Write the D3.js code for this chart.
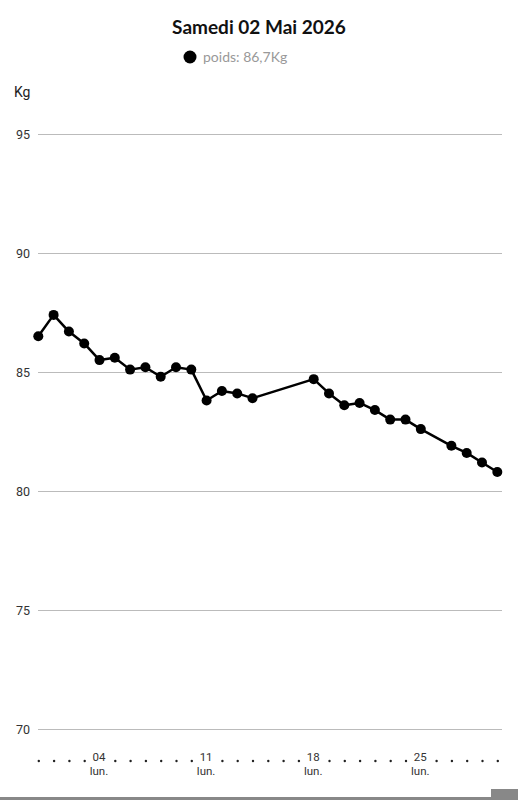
<!DOCTYPE html>
<html>
<head>
<meta charset="utf-8">
<script src="https://cdn.jsdelivr.net/npm/d3@7"></script>
<style>
  body { margin: 0; background: #fff; }
  svg { display: block; }
  .tick text { font-family: Roboto, sans-serif; fill: #333; }
</style>
</head>
<body>
<svg id="chart" width="518" height="800"></svg>
<script>
// données
var dates = ["2026-04-30", "2026-05-01", "2026-05-02", "2026-05-03", "2026-05-04",
             "2026-05-05", "2026-05-06", "2026-05-07", "2026-05-08", "2026-05-09",
             "2026-05-10", "2026-05-11", "2026-05-12", "2026-05-13", "2026-05-14",
             "2026-05-18", "2026-05-19", "2026-05-20", "2026-05-21", "2026-05-22",
             "2026-05-23", "2026-05-24", "2026-05-25",
             "2026-05-27", "2026-05-28", "2026-05-29", "2026-05-30"];
var poids = [86.5, 87.4, 86.7, 86.2, 85.5,
             85.6, 85.1, 85.2, 84.8, 85.2,
             85.1, 83.8, 84.2, 84.1, 83.9,
             84.7, 84.1, 83.6, 83.7, 83.4,
             83.0, 83.0, 82.6,
             81.9, 81.6, 81.2, 80.8];
var yTicks = [70, 75, 80, 85, 90, 95];
var titre = "Samedi 02 Mai 2026";
var legende = "poids: 86,7Kg";
var unite = "Kg";
var jourCourt = "lun.";

var parse = d3.timeParse("%Y-%m-%d");
var data = dates.map(function(d, i) { return { date: parse(d), poids: poids[i] }; });

var svg = d3.select("#chart");

var x = d3.scaleTime()
    .domain([parse("2026-04-30"), parse("2026-05-30")])
    .range([38.3, 497.3]);
var y = d3.scaleLinear()
    .domain([70, 95])
    .range([729, 134]);

// titre + légende
svg.append("text")
    .attr("x", 259).attr("y", 34)
    .attr("text-anchor", "middle")
    .style("font-family", "Lato, 'Noto Sans', sans-serif")
    .style("font-weight", "bold")
    .style("font-size", "19px")
    .style("fill", "#111")
    .text(titre);

svg.append("circle")
    .attr("cx", 190).attr("cy", 57).attr("r", 6.5)
    .attr("fill", "#000");
svg.append("text")
    .attr("x", 203).attr("y", 62)
    .style("font-family", "Lato, 'Noto Sans', sans-serif")
    .style("font-size", "14px")
    .style("fill", "#999")
    .text(legende);

svg.append("text")
    .attr("x", 14).attr("y", 97)
    .style("font-family", "Roboto, sans-serif")
    .style("font-size", "14px")
    .style("fill", "#222")
    .text(unite);

// axe y + grille
var yAxis = d3.axisLeft(y)
    .tickValues(yTicks)
    .tickSize(-464)
    .tickPadding(8);
var gy = svg.append("g")
    .attr("transform", "translate(38,0)")
    .call(yAxis);
gy.select(".domain").remove();
gy.selectAll(".tick line").attr("stroke", "#bbb").attr("stroke-width", 1);
gy.selectAll(".tick text").style("font-size", "12.5px").attr("x", -8);

// axe x : un point par jour, libellé le lundi
var xAxis = d3.axisBottom(x)
    .ticks(d3.timeDay.every(1))
    .tickSize(0)
    .tickPadding(0)
    .tickFormat(function(d) { return d.getDay() === 1 ? d3.timeFormat("%d")(d) : ""; });
var gx = svg.append("g")
    .attr("transform", "translate(0,753)")
    .call(xAxis);
gx.select(".domain").remove();
gx.selectAll(".tick").each(function(d) {
    var t = d3.select(this);
    if (d.getDay() === 1) {
        t.select("text").attr("x", -1).attr("y", 0).attr("dy", "0.71em").style("font-size", "11.5px");
        t.append("text")
            .attr("x", -1).attr("y", 13.5).attr("dy", "0.71em")
            .attr("text-anchor", "middle")
            .style("font-size", "11.5px")
            .text(jourCourt);
    } else {
        t.append("circle").attr("cy", 8).attr("r", 1.2).attr("fill", "#222");
    }
});

// courbe
var line = d3.line()
    .x(function(d) { return x(d.date); })
    .y(function(d) { return y(d.poids); });

svg.append("path")
    .datum(data)
    .attr("fill", "none")
    .attr("stroke", "#000")
    .attr("stroke-width", 2.5)
    .attr("stroke-linejoin", "round")
    .attr("d", line);

svg.selectAll(".pt")
    .data(data)
    .enter()
    .append("circle")
    .attr("class", "pt")
    .attr("cx", function(d) { return x(d.date); })
    .attr("cy", function(d) { return y(d.poids); })
    .attr("r", 5)
    .attr("fill", "#000");

// barre de défilement en bas
svg.append("rect").attr("x", 0).attr("y", 797).attr("width", 518).attr("height", 3).attr("fill", "#888");
svg.append("rect").attr("x", 491).attr("y", 789).attr("width", 27).attr("height", 11).attr("fill", "#888");
</script>
</body>
</html>
